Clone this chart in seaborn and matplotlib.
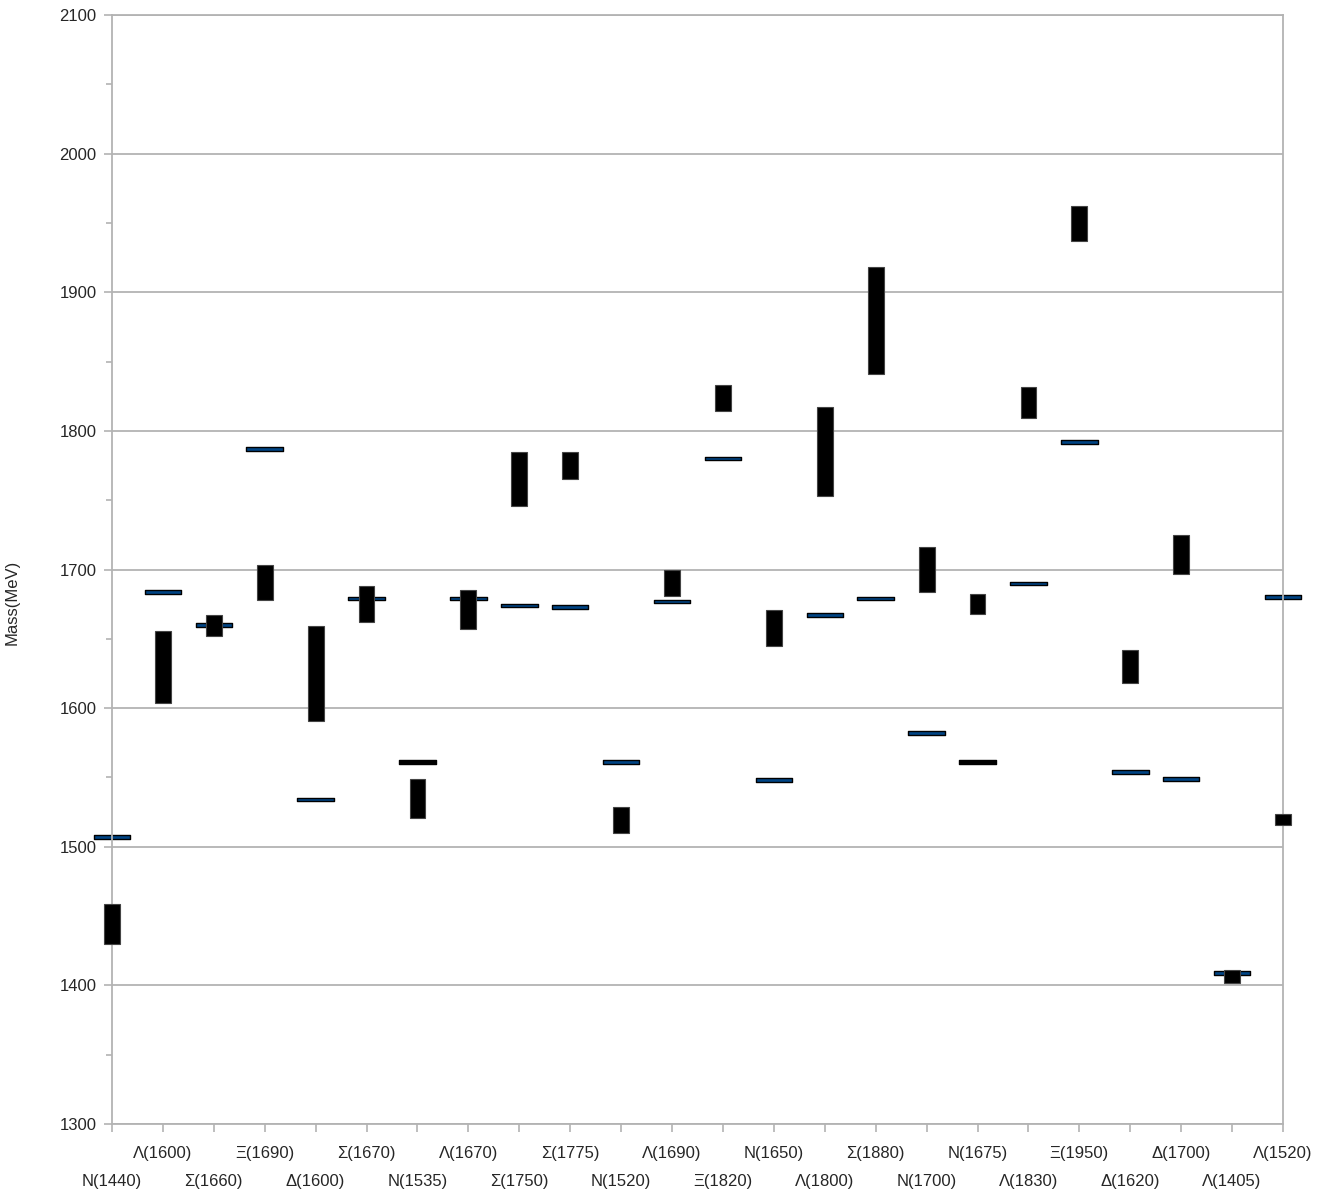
import numpy as np
import pandas as pd
import seaborn as sns
import matplotlib.pyplot as plt
from matplotlib.path import Path
from matplotlib.ticker import FixedLocator, MultipleLocator

# --- data ---
states = ['N(1440)', 'Λ(1600)', 'Σ(1660)', 'Ξ(1690)', 'Δ(1600)', 'Σ(1670)',
          'N(1535)', 'Λ(1670)', 'Σ(1750)', 'Σ(1775)', 'N(1520)', 'Λ(1690)',
          'Ξ(1820)', 'N(1650)', 'Λ(1800)', 'Σ(1880)', 'N(1700)', 'N(1675)',
          'Λ(1830)', 'Ξ(1950)', 'Δ(1620)', 'Δ(1700)', 'Λ(1405)', 'Λ(1520)']
exp_low = [1430, 1604, 1652, 1678, 1591, 1662, 1521, 1657, 1746, 1765, 1510, 1681,
           1814, 1645, 1753, 1841, 1684, 1668, 1809, 1937, 1618, 1697, 1402, 1516]
exp_high = [1459, 1656, 1667, 1703, 1659, 1688, 1549, 1685, 1785, 1785, 1529, 1700,
            1833, 1671, 1817, 1918, 1716, 1682, 1832, 1962, 1642, 1725, 1411, 1524]
model = [1507, 1684, 1660, 1787, 1534, 1679, 1561, 1679, 1674, 1673, 1561, 1677,
         1780, 1548, 1667, 1679, 1582, 1561, 1690, 1792, 1554, 1549, 1409, 1680]
model_kind = ['calc'] * len(states)
model_kind[6] = 'other'
model_kind[17] = 'other'

df = pd.DataFrame({'state': states, 'low': exp_low, 'high': exp_high,
                   'model': model, 'kind': model_kind})
df['pos'] = np.arange(len(df))

# --- style ---
sns.set_theme(style="white")
plt.rcParams['font.family'] = ['Liberation Sans', 'DejaVu Sans']
grid_col = '#b3b3b3'

fig = plt.figure(figsize=(13.33, 12), dpi=100)
ax = fig.add_axes([0.084, 0.0633, 0.8785, 0.9242])

# model predictions: flat dashes
dash = Path([(-1, -0.1), (1, -0.1), (1, 0.1), (-1, 0.1), (-1, -0.1)],
            [Path.MOVETO, Path.LINETO, Path.LINETO, Path.LINETO, Path.CLOSEPOLY])
sns.scatterplot(data=df, x='pos', y='model', hue='kind',
                palette={'calc': '#004586', 'other': 'black'},
                marker=dash, s=690, edgecolor='black', linewidth=1.0,
                legend=False, ax=ax, zorder=2, clip_on=False)

# experimental ranges: black boxes
ax.bar(df['pos'], df['high'] - df['low'], bottom=df['low'], width=0.31,
       color='black', edgecolor='#444444', linewidth=0.8, zorder=3, clip_on=False)

ax.set_xlim(0, len(states) - 1)
ax.set_ylim(1300, 2100)
ax.yaxis.set_major_locator(MultipleLocator(100))
ax.yaxis.set_minor_locator(MultipleLocator(50))
ax.grid(axis='y', color=grid_col, linewidth=1.3)
ax.set_axisbelow(True)

# staggered category labels
odd = df['pos'][1::2].tolist()
even = df['pos'][0::2].tolist()
ax.xaxis.set_major_locator(FixedLocator(odd))
ax.xaxis.set_minor_locator(FixedLocator(even))
ax.set_xticklabels(df['state'][1::2].tolist())
ax.set_xticklabels(df['state'][0::2].tolist(), minor=True)
ax.tick_params(axis='x', which='major', length=6, width=1.2, color=grid_col,
               pad=10, labelsize=12, bottom=True)
ax.tick_params(axis='x', which='minor', length=6, width=1.2, color=grid_col,
               pad=30, labelsize=12, bottom=True)
ax.tick_params(axis='y', which='major', length=6, width=1.2, color=grid_col,
               pad=5, labelsize=12, left=True)
ax.tick_params(axis='y', which='minor', length=4.5, width=1.2, color=grid_col, left=True)

for sp in ax.spines.values():
    sp.set_color(grid_col)
    sp.set_linewidth(1.3)

ax.set_xlabel('')
ax.set_ylabel('Mass(MeV)', fontsize=12)
ax.yaxis.set_label_coords(-0.079, 0.47)

fig.savefig('out.png', dpi=100)
